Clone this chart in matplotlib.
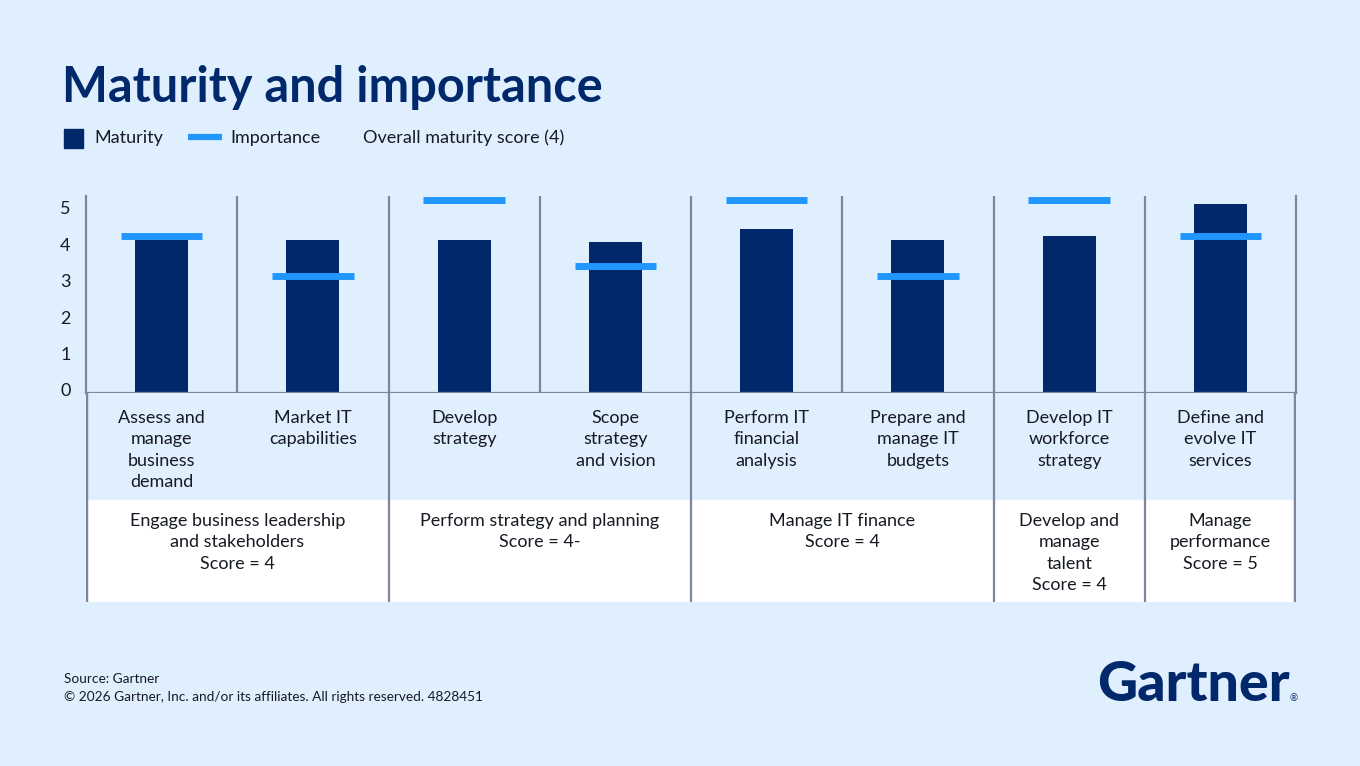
import matplotlib.pyplot as plt
import matplotlib.transforms as mtransforms

BG = '#E0EFFD'
NAVY = '#00286A'
LIGHT = '#2196FF'
GRID = '#7C879E'
TXT = '#161a22'

categories = ['Assess and\nmanage\nbusiness\ndemand', 'Market IT\ncapabilities',
              'Develop\nstrategy', 'Scope\nstrategy\nand vision',
              'Perform IT\nfinancial\nanalysis', 'Prepare and\nmanage IT\nbudgets',
              'Develop IT\nworkforce\nstrategy', 'Define and\nevolve IT\nservices']
maturity = [4.2, 4.2, 4.2, 4.15, 4.5, 4.2, 4.3, 5.2]
importance = [4.3, 3.2, 5.3, 3.5, 5.3, 3.2, 5.3, 4.3]
groups = ['Engage business leadership\nand stakeholders\nScore = 4',
          'Perform strategy and planning\nScore = 4-',
          'Manage IT finance\nScore = 4',
          'Develop and\nmanage\ntalent\nScore = 4',
          'Manage\nperformance\nScore = 5']
group_first = [0, 2, 4, 6, 7]
group_last = [1, 3, 5, 6, 7]

plt.rcParams['font.family'] = ['Lato', 'DejaVu Sans']

fig = plt.figure(figsize=(13.6, 7.66), dpi=100, facecolor=BG)
W, H = 1360, 766
x0, x1 = 86, 1296
ax = fig.add_axes([x0 / W, 1 - 393 / H, (x1 - x0) / W, (393 - 196) / H])
ax.set_facecolor(BG)
x = list(range(len(categories)))
ax.bar(x, maturity, width=0.35, color=NAVY, zorder=2)
ax.hlines(importance, [i - 0.27 for i in x], [i + 0.27 for i in x],
          color=LIGHT, lw=5, capstyle='butt', zorder=3)
ax.set_xlim(-0.5, len(categories) - 0.5)
ax.set_ylim(0, 5.41)
for b in range(1, len(categories)):
    ax.axvline(b - 0.5, color=GRID, lw=1.6, zorder=1)
for s in ['left', 'right', 'bottom']:
    ax.spines[s].set_color(GRID)
    ax.spines[s].set_linewidth(1.6)
ax.spines['top'].set_visible(False)
ax.set_xticks([])
ax.set_yticks(range(6))
ax.tick_params(axis='y', length=0, pad=11, labelsize=13, labelcolor=TXT)
off = mtransforms.ScaledTranslation(0, 3 / 100, fig.dpi_scale_trans)
for lab in ax.get_yticklabels():
    lab.set_transform(lab.get_transform() + off)

# table below the chart
tb = fig.add_axes([x0 / W, 1 - 602 / H, (x1 - x0) / W, (602 - 393) / H])
tb.set_xlim(-0.5, len(categories) - 0.5)
tb.set_ylim(0, 209)
tb.set_facecolor(BG)
tb.axhspan(0, 102, color='white', zorder=0)
for s in tb.spines.values():
    s.set_visible(False)
tb.set_xticks([])
tb.set_yticks([])
for i, c in enumerate(categories):
    tb.text(i, 192, c, ha='center', va='top', fontsize=13, color=TXT,
            linespacing=1.42)
bounds = [-0.5] + [g + 0.5 for g in group_last]
for b in bounds:
    tb.axvline(b, color=GRID, lw=1.6 if b not in (-0.5, 7.5) else 3.2, zorder=2)
for g, a, b in zip(groups, group_first, group_last):
    tb.text((a + b) / 2, 89, g, ha='center', va='top', fontsize=13,
            color=TXT, linespacing=1.42)

# title, legend, footer
fig.text(62 / W, 1 - 87 / H, 'Maturity and importance', fontsize=35,
         fontweight='bold', color=NAVY, va='center')
fig.patches.append(plt.Rectangle((64 / W, 1 - 148 / H), 19 / W, 19 / H,
                                 transform=fig.transFigure, color=NAVY))
fig.text(94 / W, 1 - 138 / H, 'Maturity', fontsize=13, color=TXT, va='center')
fig.lines.append(plt.Line2D([188 / W, 222 / W], [1 - 137 / H, 1 - 137 / H],
                            transform=fig.transFigure, color=LIGHT, lw=4.5,
                            solid_capstyle='butt'))
fig.text(230 / W, 1 - 138 / H, 'Importance', fontsize=13, color=TXT, va='center')
fig.text(363 / W, 1 - 138 / H, 'Overall maturity score (4)', fontsize=13,
         color=TXT, va='center')

fig.text(64 / W, 1 - 679 / H, 'Source: Gartner', fontsize=9.8, color=TXT, va='center')
fig.text(64 / W, 1 - 697 / H,
         '\u00a9 2026 Gartner, Inc. and/or its affiliates. All rights reserved. 4828451',
         fontsize=9.8, color=TXT, va='center')
fig.text(1290 / W, 1 - 701 / H, 'Gartner', fontsize=40, fontweight='black',
         color=NAVY, ha='right', va='baseline', fontstretch='condensed')
fig.text(1298 / W, 1 - 701 / H, '\u00ae', fontsize=7, color=NAVY,
         ha='right', va='baseline')

fig.savefig('out.png', dpi=100, facecolor=BG)
